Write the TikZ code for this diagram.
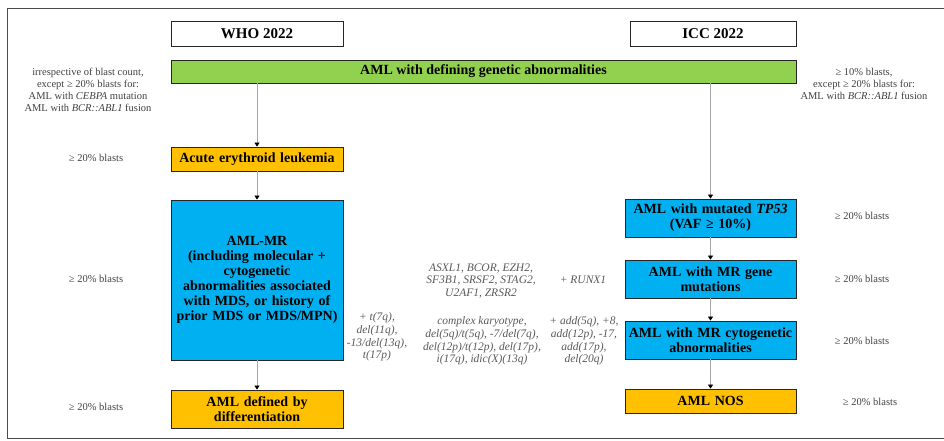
\documentclass[tikz,border=0pt]{standalone}
\usepackage{fontspec}
\setmainfont{Liberation Serif}
\usetikzlibrary{arrows.meta}
\definecolor{defgreen}{HTML}{92D050}
\definecolor{eryorange}{HTML}{FFC000}
\definecolor{mrblue}{HTML}{00B0F0}
\definecolor{notegray}{HTML}{404040}
\definecolor{genegray}{HTML}{595959}
\definecolor{linegray}{HTML}{A6A6A6}
\tikzset{
  box/.style={draw=black!85, line width=0.8pt, align=center, inner sep=2pt,
    font=\fontsize{14}{15}\selectfont\bfseries},
  headbox/.style={box, fill=white, minimum height=25pt,
    font=\fontsize{15}{16}\selectfont\bfseries},
  whocol/.style={box, minimum width=172pt, text width=166pt},
  icccol/.style={box, minimum width=171pt, text width=165pt},
  note/.style={text=notegray, align=center, font=\fontsize{10.5}{12}\selectfont},
  gene/.style={text=genegray, align=center, font=\fontsize{11.5}{12.8}\selectfont\itshape},
  link/.style={draw=linegray, line width=0.7pt, -{Triangle[black,length=4pt,width=5pt]}}
}
\begin{document}
\begin{tikzpicture}[x=1pt,y=-1pt]
\useasboundingbox (0,0) rectangle (944,440);
% frame
\draw[black!70, line width=1pt] (944,8) -- (7,8) -- (7,438) -- (944,438);
% headers
\node[headbox, minimum width=172pt] (who) at (257,33.5) {WHO 2022};
\node[headbox, minimum width=166pt] (icc) at (713,33.5) {ICC 2022};
% common category
\node[box, fill=defgreen, minimum width=625pt, minimum height=23pt] (def) at (483.5,71.5)
  {AML with defining genetic abnormalities};
\node[note] (defwho) at (88,90) {irrespective of blast count,\\ except ≥ 20\% blasts for:\\
  AML with \textit{CEBPA} mutation\\ AML with \textit{BCR::ABL1} fusion};
\node[note] (deficc) at (864,84) {≥ 10\% blasts,\\ except ≥ 20\% blasts for:\\
  AML with \textit{BCR::ABL1} fusion};
% WHO column
\node[whocol, fill=eryorange, minimum height=24pt] (ery) at (257,159) {Acute erythroid leukemia};
\node[whocol, fill=mrblue, minimum height=160pt] (amlmr) at (257,280)
  {AML-MR\\ (including molecular +\\ cytogenetic\\ abnormalities associated\\ with MDS, or history of\\ prior MDS or MDS/MPN)};
\node[whocol, fill=eryorange, minimum height=38pt] (diff) at (257,409) {AML defined by\\ differentiation};
\node[note] (bery) at (96,158) {≥ 20\% blasts};
\node[note] (bmr) at (96,279) {≥ 20\% blasts};
\node[note] (bdiff) at (96,407) {≥ 20\% blasts};
% ICC column
\node[icccol, fill=mrblue, minimum height=38pt] (tp53) at (710.5,218) {AML with mutated \textit{TP53}\\ (VAF ≥ 10\%)};
\node[icccol, fill=mrblue, minimum height=38pt] (mrgene) at (710.5,279) {AML with MR gene\\ mutations};
\node[icccol, fill=mrblue, minimum height=38pt] (mrcyto) at (710.5,340) {AML with MR cytogenetic\\ abnormalities};
\node[icccol, fill=eryorange, minimum height=24pt] (nos) at (710.5,401) {AML NOS};
\node[note] (btp53) at (862,216) {≥ 20\% blasts};
\node[note] (bgene) at (862,279) {≥ 20\% blasts};
\node[note] (bcyto) at (862,341) {≥ 20\% blasts};
\node[note] (bnos) at (870,402) {≥ 20\% blasts};
% MR defining lesions
\node[gene] (genes) at (481,281) {ASXL1, BCOR, EZH2,\\ SF3B1, SRSF2, STAG2,\\ U2AF1, ZRSR2};
\node[gene] (runx) at (583,280) {+ RUNX1};
\node[gene] (karyo) at (482,341) {complex karyotype,\\ del(5q)/t(5q), -7/del(7q),\\ del(12p)/t(12p), del(17p),\\ i(17q), idic(X)(13q)};
\node[gene] (iccextra) at (584,341) {+ add(5q), +8,\\ add(12p), -17,\\ add(17p),\\ del(20q)};
\node[gene] (whoextra) at (377,337) {+ t(7q),\\ del(11q),\\ -13/del(13q),\\ t(17p)};
% connectors
\draw[link] (def.south -| ery.north) -- (ery.north);
\draw[link] (ery) -- (amlmr);
\draw[link] (amlmr) -- (diff);
\draw[link] (def.south -| tp53.north) -- (tp53.north);
\draw[link] (tp53) -- (mrgene);
\draw[link] (mrgene) -- (mrcyto);
\draw[link] (mrcyto) -- (nos);
\end{tikzpicture}
\end{document}
